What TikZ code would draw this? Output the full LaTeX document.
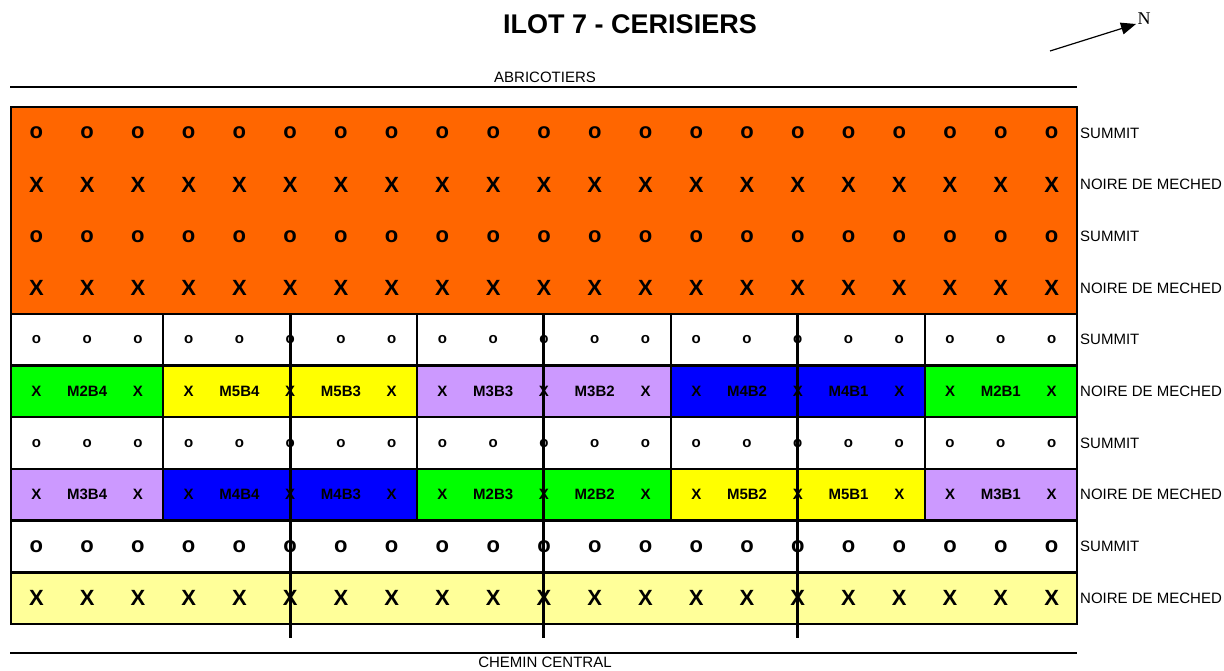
\documentclass[tikz,border=0pt]{standalone}
\usepackage{fontspec}
\setmainfont{Liberation Sans}
\newfontfamily\nfont{Liberation Serif}
\usetikzlibrary{arrows.meta,positioning}

\definecolor{cerorange}{HTML}{FF6600}
\definecolor{cergreen}{HTML}{00FF00}
\definecolor{ceryellow}{HTML}{FFFF00}
\definecolor{cerlilac}{HTML}{CC99FF}
\definecolor{cerblue}{HTML}{0000FF}
\definecolor{cerpale}{HTML}{FFFF99}

\begin{document}
\begin{tikzpicture}[
    x=1pt, y=-1pt,
    % Style definitions
    bigsym/.style={font=\fontsize{22}{22}\selectfont\bfseries, inner sep=0pt},
    smallsym/.style={font=\fontsize{15}{15}\selectfont\bfseries, inner sep=0pt},
    rowlabel/.style={anchor=west, font=\fontsize{15}{15}\selectfont, inner sep=0pt},
    roadlabel/.style={font=\fontsize{15}{15}\selectfont, inner sep=0pt},
    gridline/.style={black, line width=2.4pt},
    cellline/.style={black, line width=1.8pt},
    axisline/.style={black, line width=3pt},
    arrow/.style={-{Triangle[length=15pt,width=12pt]}, line width=1.2pt}
]
\useasboundingbox (0,0) rectangle (1224,670);

% Title
\node[font=\fontsize{27}{27}\selectfont\bfseries] (title) at (630,24) {ILOT 7 - CERISIERS};

% North arrow
\coordinate (ntail) at (1050,51);
\coordinate (ntip) at (1136,24);
\draw[arrow] (ntail) -- (ntip);
\node[font=\nfont\fontsize{18}{18}\selectfont, inner sep=0pt] (north) at (1144,19) {N};

% Roads
\node[roadlabel] (abricotiers) at (545,77) {ABRICOTIERS};
\draw[cellline] (10,87) -- (1077,87);
\node[roadlabel] (chemin) at (545,662) {CHEMIN CENTRAL};
\draw[cellline] (10,653) -- (1077,653);

% Background fills
\fill[cerorange] (11,107) rectangle (1077,313.8);
\fill[cerpale] (11,572.3) rectangle (1077,624);
\foreach \a/\b/\col in {0/3/cergreen, 3/5.5/ceryellow, 5.5/8/ceryellow, 8/10.5/cerlilac,
    10.5/13/cerlilac, 13/15.5/cerblue, 15.5/18/cerblue, 18/21/cergreen}
  \fill[\col] ({11+\a*50.76},365.5) rectangle ({11+\b*50.76},417.2);
\foreach \a/\b/\col in {0/3/cerlilac, 3/5.5/cerblue, 5.5/8/cerblue, 8/10.5/cergreen,
    10.5/13/cergreen, 13/15.5/ceryellow, 15.5/18/ceryellow, 18/21/cerlilac}
  \fill[\col] ({11+\a*50.76},468.9) rectangle ({11+\b*50.76},520.6);

% Grid lines
\foreach \y in {313.8,365.5,417.2,468.9,520.6,572.3}
  \draw[gridline] (11,\y) -- (1077,\y);
\foreach \k in {3,8,13,18}
  \draw[cellline] ({11+\k*50.76},313.8) -- ({11+\k*50.76},520.6);
\draw[gridline] (11,107) rectangle (1077,624);

% Plants
\foreach \r/\s in {1/o,2/X,3/o,4/X,9/o,10/X}
  \foreach \c in {1,...,21}
    \node[bigsym] (s-\r-\c) at ({11+(\c-0.5)*50.76},{107+(\r-0.5)*51.7}) {\s};
\foreach \r in {5,7}
  \foreach \c in {1,...,21}
    \node[smallsym] (s-\r-\c) at ({11+(\c-0.5)*50.76},{107+(\r-0.5)*51.7}) {o};
\foreach \c/\t in {1/X,2/M2B4,3/X,4/X,5/M5B4,6/X,7/M5B3,8/X,9/X,10/M3B3,11/X,
    12/M3B2,13/X,14/X,15/M4B2,16/X,17/M4B1,18/X,19/X,20/M2B1,21/X}
  \node[smallsym] (s-6-\c) at ({11+(\c-0.5)*50.76},{107+5.5*51.7}) {\t};
\foreach \c/\t in {1/X,2/M3B4,3/X,4/X,5/M4B4,6/X,7/M4B3,8/X,9/X,10/M2B3,11/X,
    12/M2B2,13/X,14/X,15/M5B2,16/X,17/M5B1,18/X,19/X,20/M3B1,21/X}
  \node[smallsym] (s-8-\c) at ({11+(\c-0.5)*50.76},{107+7.5*51.7}) {\t};

% Paths between blocks
\foreach \k in {5.5,10.5,15.5}
  \draw[axisline] ({11+\k*50.76},313.8) -- ({11+\k*50.76},638);

% Row labels
\foreach \r/\t in {1/SUMMIT,2/NOIRE DE MECHED,3/SUMMIT,4/NOIRE DE MECHED,5/SUMMIT,
    6/NOIRE DE MECHED,7/SUMMIT,8/NOIRE DE MECHED,9/SUMMIT,10/NOIRE DE MECHED}
  \node[rowlabel] (lab-\r) at (1080,{107+(\r-0.5)*51.7}) {\t};

\end{tikzpicture}
\end{document}
